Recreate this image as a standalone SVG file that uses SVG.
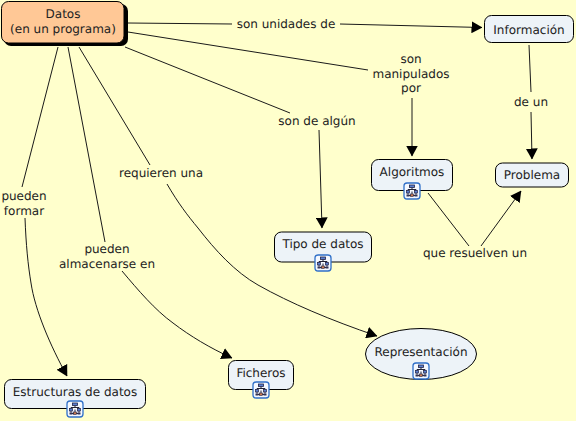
<svg xmlns="http://www.w3.org/2000/svg" width="576" height="421" viewBox="0 0 576 421">
<style>
text{font-family:"DejaVu Sans","Liberation Sans",sans-serif;font-size:12px;fill:#222;text-anchor:middle;text-rendering:geometricPrecision}
.n{fill:#edf3f8;stroke:#000;stroke-width:1}
.c{fill:none;stroke:#1a1a1a;stroke-width:1}
</style>
<defs>
<marker id="a" viewBox="0 0 11 12" refX="10.500" refY="6" markerWidth="11" markerHeight="12" markerUnits="userSpaceOnUse" orient="auto"><path d="M0 0L11 6L0 12Z" fill="#000"/></marker>
<g id="ic">
<rect x="0.500" y="0.500" width="16" height="16" rx="3" fill="#f4f8ff" stroke="#2f6fc8" stroke-width="1.300"/>
<path d="M8.500 5V7M4.500 12V7H12.500V12M8.500 9V12M4.500 13H12.500" fill="none" stroke="#223" stroke-width="1"/>
<rect x="6" y="2.500" width="5" height="2.500" fill="#5a7fd0" stroke="#224" stroke-width=".8"/>
<rect x="3" y="8" width="3" height="2.500" fill="#5a7fd0" stroke="#224" stroke-width=".7"/>
<rect x="11" y="8" width="3" height="2.500" fill="#5a7fd0" stroke="#224" stroke-width=".7"/>
<rect x="3" y="12" width="3" height="2" fill="#335" />
<rect x="7" y="11.500" width="3" height="2.500" fill="#c97a50" stroke="#224" stroke-width=".6"/>
<rect x="11" y="12" width="3" height="2" fill="#335"/>
</g>
</defs>
<rect width="576" height="421" fill="#ffffcc"/>
<g id="connectors">
<path class="c" d="M128 23L232 24"/>
<path class="c" d="M340 24L482 27.500" marker-end="url(#a)"/>
<path class="c" d="M128 32L368 70"/>
<path class="c" d="M412 98L412 156" marker-end="url(#a)"/>
<path class="c" d="M125 47L290 113"/>
<path class="c" d="M319 130L322 228" marker-end="url(#a)"/>
<path class="c" d="M79 47L150 165"/>
<path class="c" d="M167 184C178 203 188 216 198 228C215 250 235 272 258 285C290 303 330 320 377 336" marker-end="url(#a)"/>
<path class="c" d="M68 47L105 242"/>
<path class="c" d="M122 271C138 290 155 310 173 323C190 336 210 348 232 358" marker-end="url(#a)"/>
<path class="c" d="M58 47L22 187"/>
<path class="c" d="M25 218C26 245 28 265 31 283C35 310 50 345 67 376" marker-end="url(#a)"/>
<path class="c" d="M529 45L531 92"/>
<path class="c" d="M531 112L532 159" marker-end="url(#a)"/>
<path class="c" d="M428 193L469 246"/>
<path class="c" d="M481 246L521 191" marker-end="url(#a)"/>
</g>
<g id="labels">
<text x="286" y="28">son unidades de</text>
<text x="411" y="63">son</text><text x="411" y="78">manipulados</text><text x="411" y="92">por</text>
<text x="317" y="125">son de algún</text>
<text x="161" y="177">requieren una</text>
<text x="107" y="253">pueden</text><text x="107" y="268">almacenarse en</text>
<text x="24" y="200">pueden</text><text x="24" y="215">formar</text>
<text x="531" y="106">de un</text>
<text x="475" y="257">que resuelven un</text>
</g>
<g id="datos">
<rect x="4" y="4" width="124" height="42" rx="7" fill="#000"/>
<rect x="1.500" y="1.500" width="122.500" height="41.500" rx="7" fill="#ffc896" stroke="#000"/>
<text x="63" y="18">Datos</text><text x="63" y="33">(en un programa)</text>
</g>
<g id="informacion"><rect class="n" x="484.500" y="15.500" width="89" height="27" rx="7"/><text x="529" y="34">Información</text></g>
<g id="problema"><rect class="n" x="495.500" y="163" width="73" height="24" rx="7"/><text x="532" y="179">Problema</text></g>
<g id="algoritmos"><rect class="n" x="371.500" y="159.500" width="81" height="31" rx="7"/><text x="412" y="176">Algoritmos</text><use href="#ic" x="403.500" y="182.500"/></g>
<g id="tipo"><rect class="n" x="274.500" y="232" width="97" height="30" rx="7"/><text x="323" y="248">Tipo de datos</text><use href="#ic" x="314.500" y="254.500"/></g>
<g id="estructuras"><rect class="n" x="4.500" y="379.500" width="141" height="29" rx="7"/><text x="75" y="396">Estructuras de datos</text><use href="#ic" x="66.500" y="400.500"/></g>
<g id="ficheros"><rect class="n" x="228.500" y="360.500" width="65" height="29" rx="7"/><text x="261" y="377">Ficheros</text><use href="#ic" x="252.500" y="381.500"/></g>
<g id="representacion"><ellipse class="n" cx="421" cy="354" rx="55.500" ry="25.500"/><text x="421" y="356">Representación</text><use href="#ic" x="412.500" y="362.500"/></g>
</svg>
